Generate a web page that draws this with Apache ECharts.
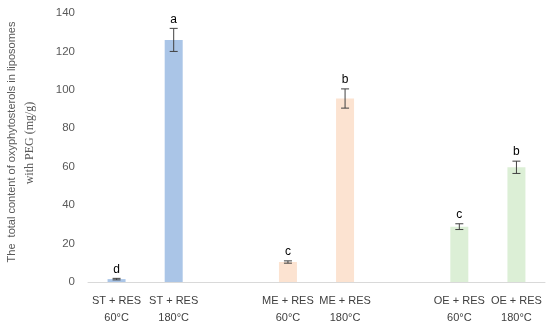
<!DOCTYPE html>
<html>
<head>
<meta charset="utf-8">
<script src="https://cdn.jsdelivr.net/npm/echarts@6/dist/echarts.min.js"></script>
<style>html,body{margin:0;padding:0;background:#fff}#c{width:550px;height:327px}</style>
</head>
<body>
<div id="c"></div>
<script>
var categories = ['ST + RES\n60°C','ST + RES\n180°C','','ME + RES\n60°C','ME + RES\n180°C','','OE + RES\n60°C','OE + RES\n180°C'];
var values = [1.5, 126, null, 10.4, 95.5, null, 28.8, 59.7];
var errors = [0.4, 6, null, 0.6, 5, null, 1.5, 3.2];
var letters = ['d','a','','c','b','','c','b'];
var groupOf = ['ST','ST','','ME','ME','','OE','OE'];
var yTicks = [0,20,40,60,80,100,120,140];
var colors = {ST:'#aac5e7', ME:'#fce3d1', OE:'#dcefd6'};

var chart = echarts.init(document.getElementById('c'), null, {renderer:'canvas'});
var barData = values.map(function(v,i){
  return v==null ? '-' : {value:v, itemStyle:{color:colors[groupOf[i]]}};
});
var errData = [];
values.forEach(function(v,i){ if(v!=null) errData.push([i, v, errors[i], letters[i]]); });

chart.setOption({
  animation:false,
  grid:{left:88, right:5, top:13, bottom:45},
  xAxis:{type:'category', data:categories,
    axisLine:{lineStyle:{color:'#d9d9d9', width:1}},
    axisTick:{show:false},
    axisLabel:{interval:0, color:'#404040', fontSize:11, fontFamily:'Liberation Sans', lineHeight:17, margin:10}
  },
  yAxis:{type:'value', min:yTicks[0], max:yTicks[yTicks.length-1], interval:20,
    axisLine:{show:false}, axisTick:{show:false}, splitLine:{show:false},
    axisLabel:{color:'#595959', fontSize:11.5, fontFamily:'Liberation Sans', margin:13}
  },
  series:[
    {type:'bar', data:barData, barWidth:18, barGap:'-100%'},
    {type:'custom', data:errData, z:5,
      renderItem:function(params, api){
        var x = api.value(0), v = api.value(1), e = api.value(2);
        var top = api.coord([x, v+e]);
        var bot = api.coord([x, v-e]);
        var cx = top[0], hw = 4;
        var lt = errData[params.dataIndex][3];
        return {type:'group', children:[
          {type:'line', shape:{x1:cx, y1:top[1], x2:cx, y2:bot[1]}, style:{stroke:'#404040', lineWidth:1}},
          {type:'line', shape:{x1:cx-hw, y1:top[1], x2:cx+hw, y2:top[1]}, style:{stroke:'#404040', lineWidth:1}},
          {type:'line', shape:{x1:cx-hw, y1:bot[1], x2:cx+hw, y2:bot[1]}, style:{stroke:'#404040', lineWidth:1}},
          {type:'text', style:{text:lt, x:cx, y:top[1]-3, textAlign:'center', textVerticalAlign:'bottom', fill:'#000', font:'12px Liberation Sans'}}
        ]};
      }
    }
  ],
  graphic:[
    {type:'text', x:12, y:142, rotation:Math.PI/2, style:{text:'The  total content of oxyphytosterols in liposomes', fill:'#595959', font:'11px Liberation Sans', textAlign:'center', textVerticalAlign:'middle'}},
    {type:'text', x:30, y:143, rotation:Math.PI/2, style:{text:'with PEG (mg/g)', fill:'#595959', font:'12px Liberation Serif', textAlign:'center', textVerticalAlign:'middle'}}
  ]
});
</script>
</body>
</html>
